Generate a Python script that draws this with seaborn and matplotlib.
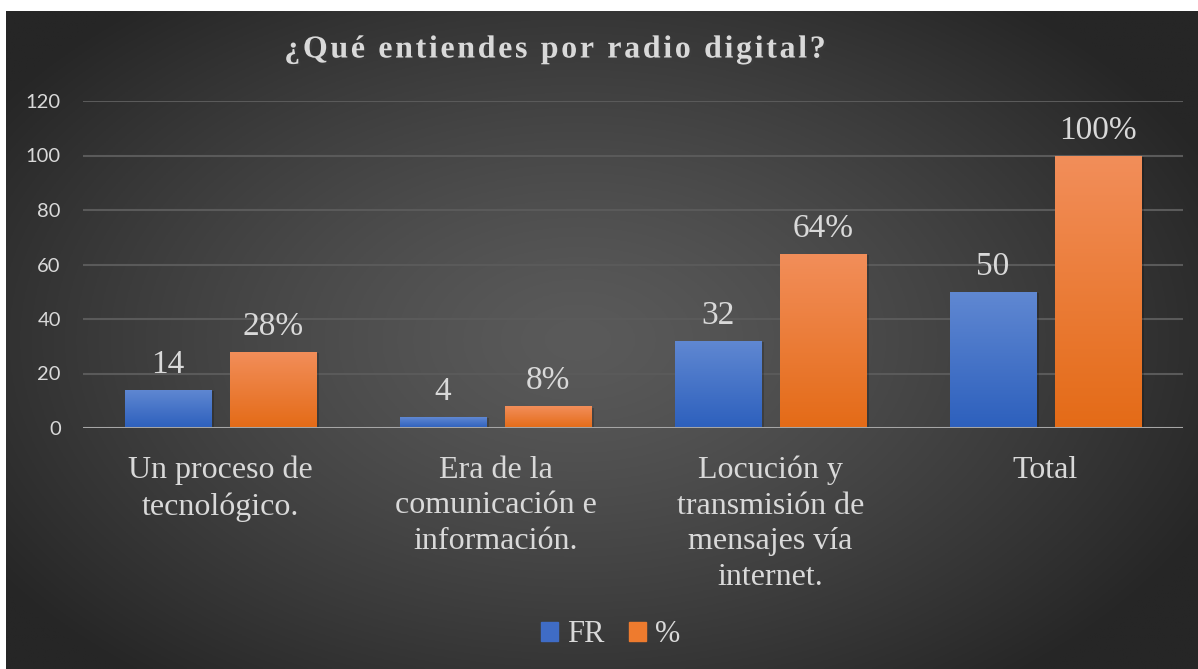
import numpy as np
import pandas as pd
import matplotlib.pyplot as plt
import matplotlib.patheffects as pe
import seaborn as sns

# --- data ---
categories = ["Un proceso de\ntecnológico.",
              "Era de la\ncomunicación e\ninformación.",
              "Locución y\ntransmisión de\nmensajes vía\ninternet.",
              "Total"]
fr_values = [14, 4, 32, 50]
pct_values = [28, 8, 64, 100]
series_names = ["FR", "%"]
title = "¿Qué entiendes por radio digital?"

df = pd.DataFrame({
    "categoria": categories * 2,
    "serie": [series_names[0]] * 4 + [series_names[1]] * 4,
    "valor": fr_values + pct_values,
})

# --- style ---
sns.set_style("dark")
serif = ["Liberation Serif", "DejaVu Serif"]
plt.rcParams["font.family"] = serif
txt = "#d9d9d9"
blue_top, blue_bot = "#6088d2", "#2d60bd"
orange_top, orange_bot = "#f28e5a", "#e46b17"

fig = plt.figure(figsize=(11.98, 6.69), dpi=100)
fig.patch.set_facecolor("white")

# radial gradient background
bg = fig.add_axes([6 / 1198, 0, 1192 / 1198, 658 / 669], zorder=-2)
yy, xx = np.mgrid[0:1:300j, 0:1:500j]
r = np.sqrt(((xx - 0.48) / 0.75) ** 2 + ((yy - 0.5) / 0.85) ** 2)
r = np.clip(r / 0.78, 0, 1) ** 1.3
c0 = np.array([0x5a, 0x5a, 0x5a]) / 255
c1 = np.array([0x26, 0x26, 0x26]) / 255
img = c0[None, None, :] * (1 - r[..., None]) + c1[None, None, :] * r[..., None]
bg.imshow(img, aspect="auto", extent=[0, 1, 0, 1])
bg.set_axis_off()

ax = fig.add_axes([83 / 1198, (669 - 428) / 669, 1100 / 1198, 327 / 669])
ax.set_facecolor("none")

sns.barplot(data=df, x="categoria", y="valor", hue="serie",
            palette=[blue_bot, orange_bot], width=0.764, gap=0.18,
            ax=ax, legend=False, zorder=3, linewidth=0)

ax.set_ylim(0, 120)
ax.set_yticks(range(0, 121, 20))
ax.grid(axis="y", color="#5a5a5a", linewidth=1.5, zorder=0)
ax.grid(axis="x", visible=False)
for s in ax.spines.values():
    s.set_visible(False)
ax.axhline(0, color="#a6a6a6", linewidth=2.2, zorder=4)
ax.set_xlabel("")
ax.set_ylabel("")
ax.tick_params(axis="y", length=0, pad=16, labelsize=14.5, labelcolor=txt)
ax.tick_params(axis="x", length=0, pad=20, labelsize=23, labelcolor=txt)
for lab in ax.get_yticklabels():
    lab.set_fontfamily(["Lato", "DejaVu Sans"])
for lab in ax.get_xticklabels():
    lab.set_linespacing(1.3)
    lab.set_verticalalignment("top")

# gradient fill for each bar
xlim = ax.get_xlim()
grad = np.linspace(0, 1, 100)[:, None]
for i, patch in enumerate(ax.patches):
    top, bot = (blue_top, blue_bot) if i < 4 else (orange_top, orange_bot)
    ct = np.array(plt.matplotlib.colors.to_rgb(top))
    cb = np.array(plt.matplotlib.colors.to_rgb(bot))
    g = ct[None, None, :] * (1 - grad[..., None]) + cb[None, None, :] * grad[..., None]
    x0, y0 = patch.get_x(), patch.get_y()
    w, h = patch.get_width(), patch.get_height()
    im = ax.imshow(g, extent=[x0, x0 + w, y0, y0 + h], aspect="auto", zorder=3.5)
    im.set_clip_path(patch)
    patch.set_path_effects([pe.SimplePatchShadow(offset=(2, -1), shadow_rgbFace="black", alpha=0.2), pe.Normal()])
ax.set_xlim(xlim)
ax.set_ylim(0, 120)

# data labels
for i, c in enumerate(ax.containers):
    vals = fr_values if i == 0 else pct_values
    labels = [f"{v}" if i == 0 else f"{v}%" for v in vals]
    ax.bar_label(c, labels=labels, padding=7, fontsize=24, color=txt, zorder=5)

# title
fig.text(555 / 1198, 1 - 50 / 669, "\u200a".join(title), ha="center", va="center",
         fontsize=23, fontweight="bold", color=txt, family=serif,
         path_effects=[pe.withSimplePatchShadow(offset=(1.5, -1.5), alpha=0.4)])

# legend
handles = [plt.Rectangle((0, 0), 1, 1, color="#3f6cc6"),
           plt.Rectangle((0, 0), 1, 1, color="#ee7b2e")]
fig.legend(handles, series_names, loc="center", bbox_to_anchor=(611 / 1198, 1 - 635 / 669),
           ncol=2, frameon=False, fontsize=22, labelcolor=txt, handlelength=0.55,
           handleheight=0.55, handletextpad=0.3, columnspacing=0.8)

fig.savefig("out.png", dpi=100)
